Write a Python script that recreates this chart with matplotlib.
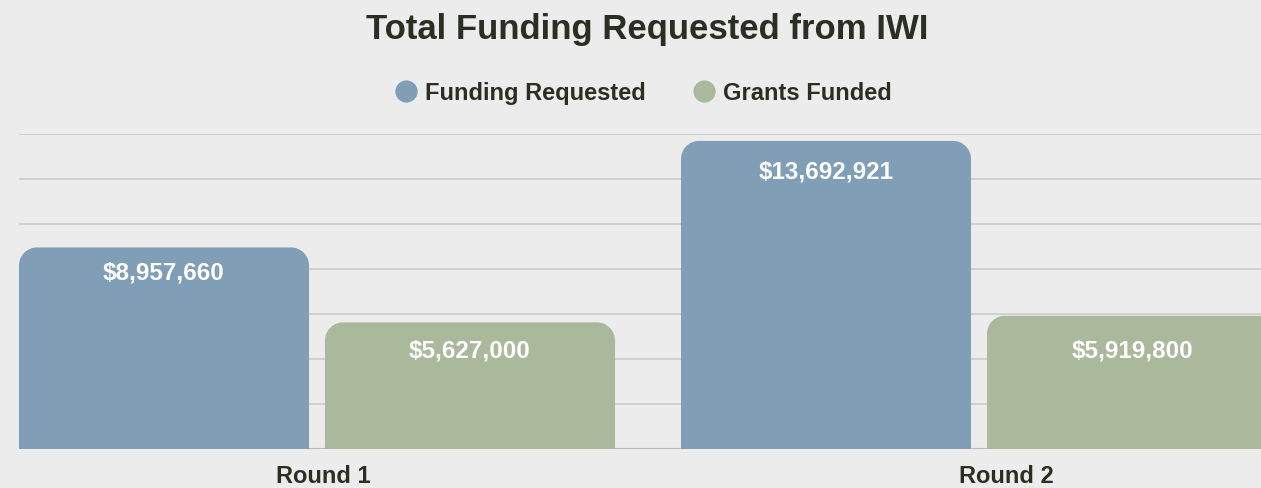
import matplotlib
matplotlib.use("Agg")
import matplotlib.pyplot as plt
from matplotlib.patches import PathPatch
from matplotlib.path import Path
from matplotlib.lines import Line2D
import numpy as np

# ---- data ----
categories = ["Round 1", "Round 2"]
series_names = ["Funding Requested", "Grants Funded"]
funding_requested = [8957660, 13692921]
grants_funded = [5627000, 5919800]
title = "Total Funding Requested from IWI"

# ---- style ----
BG = "#ececec"
BLUE = "#809eb6"
GREEN = "#aab89c"
DARK = "#2b2e22"
GRID = "#cdcdcd"
FONT = ["Liberation Sans", "DejaVu Sans"]
plt.rcParams["font.family"] = FONT

W, H = 1261, 489
fig = plt.figure(figsize=(W / 100, H / 100), dpi=100, facecolor=BG)
ax_left, ax_right = 19 / W, 1.0
ax_bottom, ax_top = (H - 450) / H, (H - 135) / H
ax = fig.add_axes([ax_left, ax_bottom, ax_right - ax_left, ax_top - ax_bottom])
ax.set_facecolor("none")

bar_w = 290 / 662
gap = 16 / 662
x = np.arange(len(categories))
off = bar_w / 2 + gap / 2

ax.set_xlim(-(317 - 19) / 662, (1261 - 317) / 662)
ax.set_ylim(0, 14_000_000)
ax.set_yticks(np.arange(0, 14_000_001, 2_000_000))
ax.yaxis.grid(True, color=GRID, linewidth=1.3)
ax.set_axisbelow(True)
for s in ax.spines.values():
    s.set_visible(False)
ax.tick_params(left=False, bottom=False, labelleft=False, labelbottom=False)
ax.axhline(0, color="#b9b9b9", linewidth=1.5, zorder=1)

fig.canvas.draw()
p0 = ax.transData.transform((0, 0))
p1 = ax.transData.transform((1, 1_000_000))
px_x = p1[0] - p0[0]
px_y = (p1[1] - p0[1]) / 1_000_000
radius_px = 18
rx = radius_px / px_x
ry = radius_px / px_y
K = 0.5523


def top_rounded_path(x0, w, h):
    x1 = x0 + w
    verts = [
        (x0, 0), (x0, h - ry),
        (x0, h - ry + K * ry), (x0 + rx - K * rx, h), (x0 + rx, h),
        (x1 - rx, h),
        (x1 - rx + K * rx, h), (x1, h - ry + K * ry), (x1, h - ry),
        (x1, 0), (x0, 0),
    ]
    codes = [Path.MOVETO, Path.LINETO,
             Path.CURVE4, Path.CURVE4, Path.CURVE4,
             Path.LINETO,
             Path.CURVE4, Path.CURVE4, Path.CURVE4,
             Path.LINETO, Path.CLOSEPOLY]
    return Path(verts, codes)


def rounded_bars(xpos, vals, color):
    bars = ax.bar(xpos, vals, width=bar_w, color=color)
    for rect in bars:
        bx, bw, bh = rect.get_x(), rect.get_width(), rect.get_height()
        rect.remove()
        ax.add_patch(PathPatch(top_rounded_path(bx, bw, bh), facecolor=color,
                               edgecolor="none", zorder=2))


rounded_bars(x - off, funding_requested, BLUE)
rounded_bars(x + off, grants_funded, GREEN)

fr_drop_px = [25, 30]
gf_drop_px = [28, 34]
for xi, v, d in zip(x - off, funding_requested, fr_drop_px):
    ax.text(xi, v - d / px_y, f"${v:,.0f}", ha="center", va="center",
            color="white", fontsize=17.5, fontweight="bold", zorder=3)
for xi, v, d in zip(x + off, grants_funded, gf_drop_px):
    ax.text(xi, v - d / px_y, f"${v:,.0f}", ha="center", va="center",
            color="white", fontsize=17.5, fontweight="bold", zorder=3)

label_x = [(323 - 317) / 662, (1006 - 317) / 662]
for lx, c in zip(label_x, categories):
    ax.text(lx, -27 / px_y, c, ha="center", va="center", color=DARK,
            fontsize=17, fontweight="bold", clip_on=False)

fig.text(647 / W, 1 - 30 / H, title, ha="center", va="center",
         fontsize=25, fontweight="bold", color=DARK)

handles = [Line2D([], [], marker="o", linestyle="none", markersize=16,
                  markerfacecolor=c, markeredgecolor="none")
           for c in (BLUE, GREEN)]
fig.legend(handles, series_names, loc="center", bbox_to_anchor=(643 / W, 1 - 94 / H),
           ncol=2, frameon=False, prop={"size": 17, "weight": "bold"},
           labelcolor=DARK, handletextpad=0.3, columnspacing=2.0,
           handlelength=1.0)

fig.savefig("out.png", dpi=100, facecolor=BG)
